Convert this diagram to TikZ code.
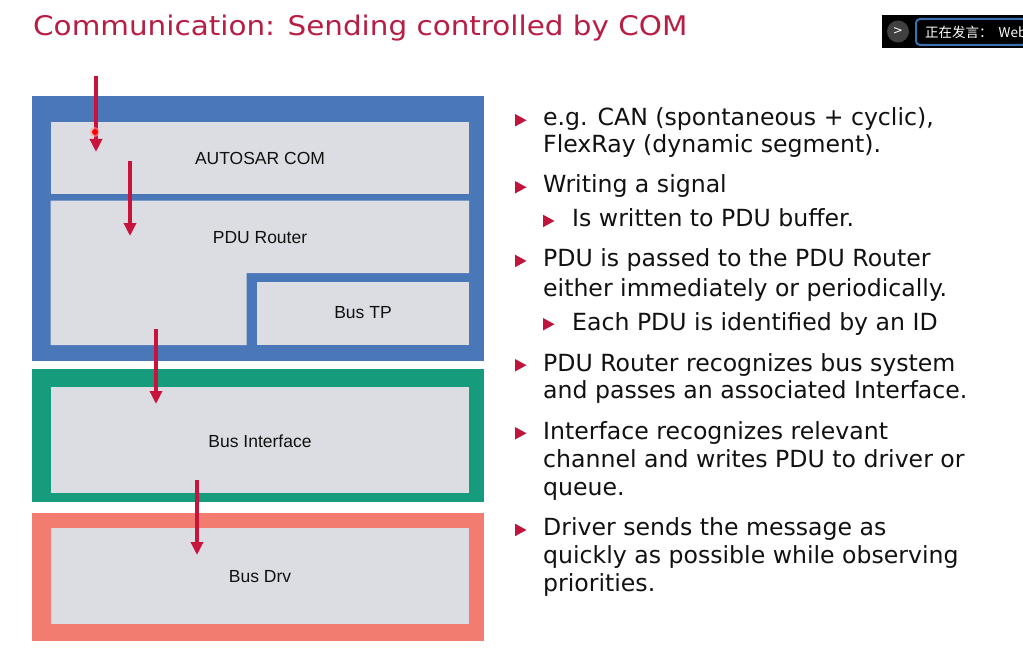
\documentclass[tikz,border=0pt]{standalone}
\usepackage{fontspec}
\setmainfont{DejaVu Sans}
\newfontfamily\boxfont{Liberation Sans}
\newfontfamily\titlefont[FakeStretch=1.09]{DejaVu Sans}
\newfontfamily\cjkfont{Noto Sans CJK SC}
\usetikzlibrary{arrows.meta}
\definecolor{blueC}{HTML}{4A77B8}
\definecolor{greenC}{HTML}{179B7D}
\definecolor{salmonC}{HTML}{F27C6F}
\definecolor{greyC}{HTML}{DCDDE2}
\definecolor{arrowC}{HTML}{C8143C}
\definecolor{titleC}{HTML}{B81E44}
\definecolor{bulletC}{HTML}{C0143C}
\definecolor{textC}{HTML}{111111}
\definecolor{ovlC}{HTML}{3A6FB0}
\tikzset{
  lbl/.style={font=\boxfont\fontsize{17.5}{20}\selectfont, text=textC, inner sep=0pt},
  line/.style={anchor=base west, inner sep=0pt, font=\fontsize{23.6}{28}\selectfont, text=textC},
  flow/.style={draw=arrowC, line width=3.5pt, -{Triangle[width=12pt,length=13pt]}},
}
\newcommand\tri[2]{\fill[bulletC] (#1,#2-12) -- (#1+11.5,#2-5.75) -- (#1,#2+0.5) -- cycle;}
\begin{document}
\begin{tikzpicture}[x=1pt,y=-1pt]
\useasboundingbox (0,0) rectangle (1023,650);
\fill[white] (0,0) rectangle (1023,650);
% title
\node[anchor=base west, inner sep=0pt, font=\titlefont\fontsize{27}{30}\selectfont, text=titleC] (title) at (33,36) {Communication: Sending controlled by COM};
% overlay
\fill[black] (882,15) rectangle (1023,48);
\fill[black!75] (898,31.5) circle (11);
\node[text=white, font=\fontsize{12}{12}\selectfont, inner sep=0pt] (btn) at (898,31.5) {>};
\draw[ovlC, line width=2pt, rounded corners=4pt] (916,19) -- (1026,19) -- (1026,45) -- (916,45) -- cycle;
\node[anchor=west, inner sep=0pt, text=white, font=\cjkfont\fontsize{13.5}{14}\selectfont] (ovl) at (925,32) {正在发言：\hspace{6pt}Web};
% outer boxes
\fill[blueC] (32,96) rectangle (484,361);
\fill[greenC] (32,369) rectangle (484,502);
\fill[salmonC] (32,513) rectangle (484,641);
% inner boxes
\fill[greyC] (50.7,122) rectangle (469,194);
\fill[greyC] (50.7,200.7) -- (469,200.7) -- (469,273) -- (246.7,273) -- (246.7,345) -- (50.7,345) -- cycle;
\fill[greyC] (257,281.5) rectangle (469,345);
\fill[greyC] (50.7,387) rectangle (469,493);
\fill[greyC] (50.7,528) rectangle (469,624);
\node[lbl] (com) at (260,158) {AUTOSAR COM};
\node[lbl] (pdur) at (260,238) {PDU Router};
\node[lbl] (bustp) at (363,313) {Bus TP};
\node[lbl] (busif) at (260,441) {Bus Interface};
\node[lbl] (busdrv) at (260,577) {Bus Drv};
% arrows
\coordinate (a1s) at (96,76); \coordinate (a1e) at (96,152);
\coordinate (a2s) at (130,161); \coordinate (a2e) at (130,236);
\coordinate (a3s) at (156,329); \coordinate (a3e) at (156,404);
\coordinate (a4s) at (197,480); \coordinate (a4e) at (197,555);
\draw[flow] (a1s) -- (a1e);
\draw[flow] (a2s) -- (a2e);
\draw[flow] (a3s) -- (a3e);
\draw[flow] (a4s) -- (a4e);
\fill[red!40, opacity=0.6] (95,132) circle (5);
\fill[red] (95,132) circle (3);
% bullets
\tri{515}{126}
\node[line] (l1) at (543,126) {e.g. CAN (spontaneous + cyclic),};
\node[line] (l2) at (543,153) {FlexRay (dynamic segment).};
\tri{515}{193}
\node[line] (l3) at (543,193) {Writing a signal};
\tri{543}{226.7}
\node[line] (l4) at (572,226.7) {Is written to PDU buffer.};
\tri{515}{266.7}
\node[line] (l5) at (543,266.7) {PDU is passed to the PDU Router};
\node[line] (l6) at (543,296.5) {either immediately or periodically.};
\tri{543}{330}
\node[line] (l7) at (572,330) {Each PDU is identified by an ID};
\tri{515}{371}
\node[line] (l8) at (543,371) {PDU Router recognizes bus system};
\node[line] (l9) at (543,398.5) {and passes an associated Interface.};
\tri{515}{439}
\node[line] (l10) at (543,439) {Interface recognizes relevant};
\node[line] (l11) at (543,467.5) {channel and writes PDU to driver or};
\node[line] (l12) at (543,495) {queue.};
\tri{515}{535.7}
\node[line] (l13) at (543,535.7) {Driver sends the message as};
\node[line] (l14) at (543,563) {quickly as possible while observing};
\node[line] (l15) at (543,591.7) {priorities.};
\end{tikzpicture}
\end{document}
